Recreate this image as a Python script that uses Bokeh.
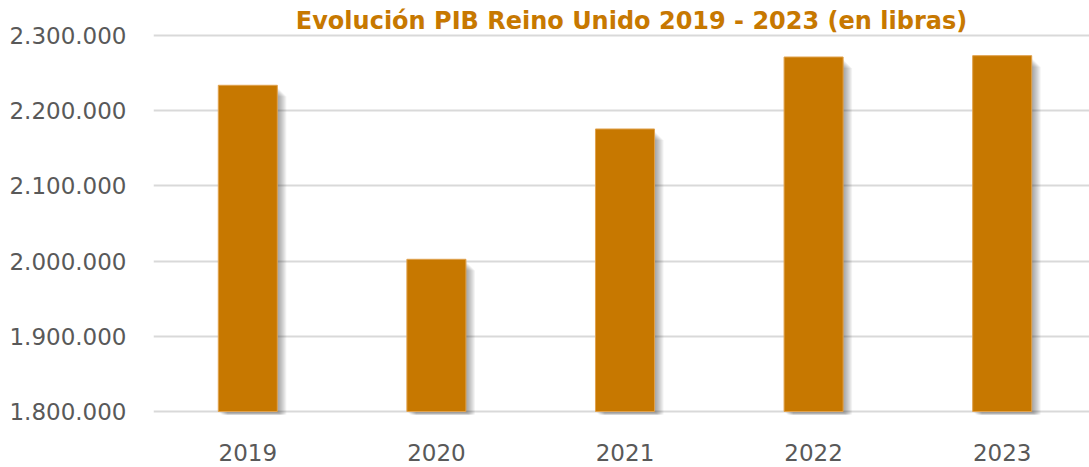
from bokeh.plotting import figure
from bokeh.models import Range1d, FixedTicker, Label, ColumnDataSource
from bokeh.embed import file_html
from bokeh.resources import INLINE
from bokeh.core.properties import value

years = ["2019", "2020", "2021", "2022", "2023"]
pib = [2233800, 2002400, 2175700, 2271400, 2273200]
y_ticks = [1800000, 1900000, 2000000, 2100000, 2200000, 2300000]
y_tick_labels = ["1.800.000", "1.900.000", "2.000.000", "2.100.000", "2.200.000", "2.300.000"]
title_text = "Evolución PIB Reino Unido 2019 - 2023 (en libras)"

ORANGE = "#C77800"
GRID = "#D9D9D9"
LABEL = "#595959"
FONT = "DejaVu Sans"

W, H = 1089, 467
LEFT = 153
frame_w = W - LEFT
px_per_cat = 188.6
px_per_unit = 75.2 / 100000.0
base_px = 411  # pixel row of 1.800.000
y0 = y_ticks[0]
y_start = y0 - (H - base_px) / px_per_unit
y_end = y0 + base_px / px_per_unit

xs = [i + 0.5 for i in range(len(years))]
bar_w = 0.313

p = figure(width=W, height=H, output_backend="svg", toolbar_location=None,
           x_range=Range1d(0, frame_w / px_per_cat),
           y_range=Range1d(y_start, y_end),
           min_border_left=LEFT, min_border_right=0, min_border_top=0, min_border_bottom=0)
p.outline_line_color = None
p.background_fill_color = "white"
p.border_fill_color = "white"

p.xgrid.grid_line_color = None
p.ygrid.ticker = FixedTicker(ticks=y_ticks)
p.ygrid.grid_line_color = GRID
p.ygrid.grid_line_width = 2

# soft drop shadow to the right / bottom of every bar
for k in range(1, 10):
    off = k / px_per_cat
    p.vbar(x=[x + off for x in xs], top=[v - (k + 2) / px_per_unit for v in pib],
           bottom=y0 - min(k, 3) / px_per_unit,
           width=bar_w, fill_color="#3a3a3a", fill_alpha=0.06, line_color=None)

p.vbar(x=xs, top=pib, bottom=y0, width=bar_w, fill_color=ORANGE,
       line_color="#E0A24E", line_width=1)

p.xaxis.visible = False
p.yaxis.ticker = FixedTicker(ticks=y_ticks)
p.yaxis.major_label_overrides = {t: l for t, l in zip(y_ticks, y_tick_labels)}
ax = p.yaxis[0]
ax.axis_line_color = None
ax.major_tick_line_color = None
ax.minor_tick_line_color = None
ax.major_tick_out = 0
ax.major_tick_in = 0
ax.major_label_text_font = FONT
ax.major_label_text_font_size = "23px"
ax.major_label_text_color = LABEL
ax.major_label_standoff = 27

# category labels drawn below the 1.800.000 line
src = ColumnDataSource(dict(x=xs, y=[y0 - 40.5 / px_per_unit] * len(xs), t=years))
p.text(x="x", y="y", text="t", source=src, text_align="center", text_baseline="alphabetic",
       text_font=value(FONT), text_font_size="23px", text_color=LABEL)

p.add_layout(Label(x=(631 - LEFT) / px_per_cat, y=y_end - 20 / px_per_unit, text=title_text,
                   text_align="center", text_baseline="alphabetic",
                   text_font=FONT, text_font_style="bold",
                   text_font_size="24px", text_color=ORANGE))

open("out.html", "w").write(file_html(p, INLINE))
